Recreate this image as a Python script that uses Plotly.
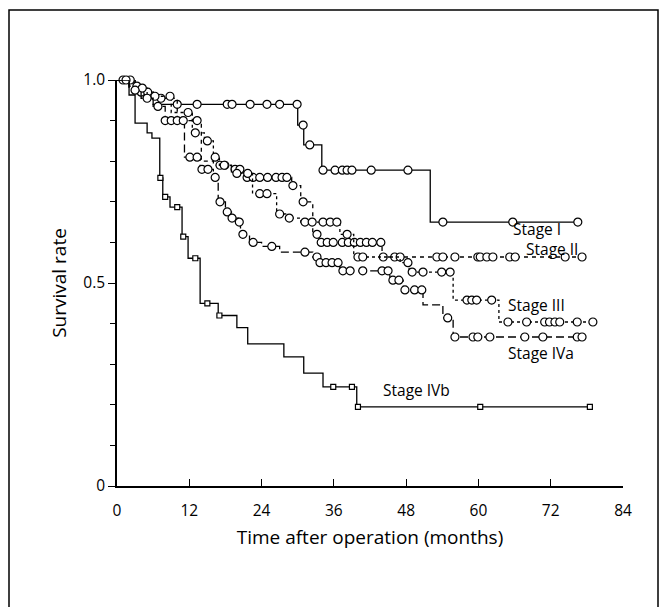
import bisect
import plotly.graph_objects as go

# ---------------- data (months, survival) ----------------
stage1_t = [0, 3, 6, 30, 31, 34, 52]
stage1_s = [1.0, 0.97, 0.94, 0.889, 0.84, 0.778, 0.650]
stage1_end = 76.5
stage1_cens = [4, 10.0, 13.3, 18.3, 19.1, 22.1, 24.9, 27.0, 29.9, 30.9, 32.0, 34.2, 36.2,
               37.4, 38.2, 39.0, 42.2, 48.3, 54.1, 65.7, 76.5]

stage2_t = [0, 2, 4, 6, 10, 14, 16, 19, 21, 29, 30.5, 32.5, 33.5, 44]
stage2_s = [1.0, 0.985, 0.97, 0.955, 0.90, 0.80, 0.79, 0.78, 0.76, 0.74, 0.70, 0.62, 0.60,
            0.564]
stage2_end = 77.2
stage2_cens = [1.0, 3.3, 5.1, 7.3, 13.3, 17.1, 17.9, 19.6, 20.4, 21.6, 22.6, 23.7, 25.0,
               26.4, 27.4, 28.2, 29.2, 30.9, 33.2, 33.9, 34.9, 35.9, 37.4, 38.4, 39.4, 40.4,
               41.4, 42.4, 43.8, 44.2, 46.1, 47.0, 53.1, 54.1, 56.1, 59.9, 60.3, 61.4,
               62.4, 65.2, 66.1, 74.4, 77.2]

stage3_t = [0, 3, 5, 9, 12.5, 14.5, 16, 17, 19, 22.5, 26.5, 28, 30.5, 37, 39.3, 47, 48.5,
            55.8, 63.4]
stage3_s = [1.0, 0.98, 0.96, 0.92, 0.87, 0.85, 0.81, 0.79, 0.77, 0.72, 0.67, 0.66, 0.65,
            0.62, 0.564, 0.55, 0.527, 0.458, 0.404]
stage3_end = 79.0
stage3_cens = [2.2, 4.2, 6.3, 8.8, 11.8, 13.0, 15.0, 16.3, 17.8, 19.9, 21.7, 23.7, 24.9,
               27.0, 28.6, 31.2, 32.4, 34.2, 35.4, 36.5, 38.2, 40.0, 40.8, 48.3, 49.0,
               50.8, 53.9, 55.3, 58.1, 58.9, 59.7, 62.2, 64.9, 68.0, 71.0, 71.8, 72.7,
               73.5, 76.4, 79.0]

stage4a_t = [0, 2, 4, 6, 8, 11.2, 13.8, 16, 16.8, 18, 19, 20.2, 20.5, 22, 24, 27, 32.5,
             33.5, 37, 45.3, 47.5, 50.8, 54.1, 55.8]
stage4a_s = [1.0, 0.975, 0.955, 0.935, 0.90, 0.81, 0.78, 0.76, 0.70, 0.675, 0.66, 0.65,
             0.62, 0.60, 0.59, 0.576, 0.564, 0.55, 0.53, 0.507, 0.483, 0.446, 0.414, 0.367]
stage4a_end = 77.2
stage4a_cens = [1.5, 3.0, 5.0, 6.8, 8.0, 9.0, 10.0, 11.0, 12.1, 13.3, 14.1, 15.1, 16.3,
                17.1, 18.3, 19.1, 20.3, 20.9, 22.6, 25.7, 31.2, 33.2, 33.7, 34.7, 35.7,
                36.7, 37.5, 38.7, 40.8, 44.0, 45.0, 45.8, 46.8, 47.8, 49.4, 50.6, 54.9,
                56.1, 59.1, 59.9, 61.9, 67.7, 70.7, 76.4, 77.2]

stage4b_t = [0, 2, 3, 5, 5.8, 7.1, 7.6, 8.8, 10.8, 11.8, 13.8, 16.8, 19.9, 21.7, 27.7,
             31.0, 34.2, 39.8]
stage4b_s = [1.0, 0.963, 0.894, 0.87, 0.857, 0.759, 0.712, 0.687, 0.614, 0.561, 0.45,
             0.42, 0.39, 0.35, 0.318, 0.278, 0.244, 0.195]
stage4b_end = 78.5
stage4b_cens = [7.2, 8.0, 10.0, 11.0, 13.0, 15.0, 17.0, 35.9, 39.0, 40.0, 60.3, 78.5]

labels = ["Stage I", "Stage II", "Stage III", "Stage IVa", "Stage IVb"]
label_pos = [(65.5, 0.634), (67.8, 0.584), (64.8, 0.445), (64.8, 0.328), (44.0, 0.236)]

x_ticks = [0, 12, 24, 36, 48, 60, 72, 84]
y_ticks = [0, 0.5, 1.0]
y_ticktext = ["0", "0.5", "1.0"]

FONT = "Open Sans"
FS = 15.5
W, H = 662, 607
L, R, T, B = 117, 623, 80, 486  # plot area in pixels


def surv_at(ts, ss, t):
    i = bisect.bisect_right(ts, t) - 1
    return ss[max(i, 0)]


fig = go.Figure()
series = [
    (stage1_t, stage1_s, stage1_end, stage1_cens, "solid", "circle"),
    (stage2_t, stage2_s, stage2_end, stage2_cens, "4px,4px", "circle"),
    (stage3_t, stage3_s, stage3_end, stage3_cens, "dot", "circle"),
    (stage4a_t, stage4a_s, stage4a_end, stage4a_cens, "8px,4px", "circle"),
    (stage4b_t, stage4b_s, stage4b_end, stage4b_cens, "solid", "square"),
]
for ts, ss, end, cens, dash, sym in series:
    xs = list(ts) + [end]
    ys = list(ss) + [ss[-1]]
    fig.add_trace(go.Scatter(x=xs, y=ys, mode="lines", line_shape="hv",
                             line=dict(color="black", width=1.3, dash=dash),
                             showlegend=False, cliponaxis=False, hoverinfo="skip"))
    cy = [surv_at(ts, ss, c) for c in cens]
    fig.add_trace(go.Scatter(x=cens, y=cy, mode="markers", showlegend=False,
                             cliponaxis=False,
                             marker=dict(symbol=sym,
                                         size=8 if sym == "circle" else 5,
                                         color="white",
                                         line=dict(color="black", width=1.2))))

for name, (lx, ly) in zip(labels, label_pos):
    fig.add_annotation(x=lx, y=ly, text=name, showarrow=False, xanchor="left",
                       yanchor="middle", borderpad=0,
                       font=dict(family=FONT, size=FS, color="black"))

pw, ph = R - L, B - T
fig.add_shape(type="rect", xref="paper", yref="paper",
              x0=(9 - L) / pw, x1=(658 - L) / pw,
              y0=(B - 640) / ph, y1=(B - 10) / ph,
              line=dict(color="black", width=1.5))

fig.update_layout(
    width=W, height=H,
    margin=dict(l=L, r=W - R, t=T, b=H - B),
    paper_bgcolor="white", plot_bgcolor="white",
    font=dict(family=FONT, size=FS, color="black"),
    xaxis=dict(range=[0, 84], tickvals=x_ticks, ticks="inside", ticklen=7,
               tickwidth=1.3, tickcolor="black", showline=True, linecolor="black",
               linewidth=1.5, showgrid=False, zeroline=False, ticklabelstandoff=10,
               title=dict(text="Time after operation (months)", standoff=10)),
    yaxis=dict(range=[0, 1.0], tickvals=y_ticks, ticktext=y_ticktext, ticks="outside",
               ticklen=7, tickwidth=1.3, tickcolor="black", showline=True,
               linecolor="black", linewidth=1.5, showgrid=False, zeroline=False,
               minor=dict(dtick=0.1, ticks="outside", ticklen=5, tickcolor="black",
                          tickwidth=1),
               title=dict(text="Survival rate", standoff=12)),
)

fig.write_html("out.html")
